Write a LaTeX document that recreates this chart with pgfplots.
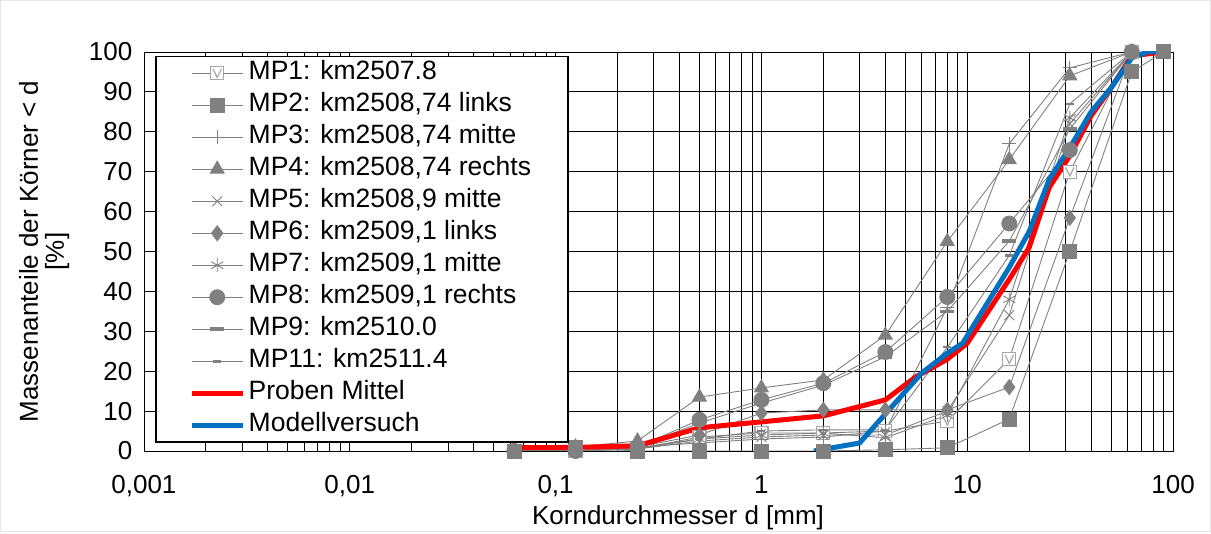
\documentclass[border=0pt]{standalone}
\usepackage{fontspec}
\setmainfont{Liberation Sans}
\usepackage{pgfplots}
\pgfplotsset{compat=1.18}
\definecolor{mpgray}{RGB}{128,128,128}
\definecolor{mplight}{RGB}{165,165,165}
\definecolor{mred}{RGB}{255,0,0}
\definecolor{mblue}{RGB}{0,112,192}
\pgfdeclareplotmark{sqv}{%
  \pgfpathrectangle{\pgfpoint{-\pgfplotmarksize}{-\pgfplotmarksize}}{\pgfpoint{2\pgfplotmarksize}{2\pgfplotmarksize}}%
  \pgfusepathqfillstroke
  \pgfpathmoveto{\pgfpoint{-0.65\pgfplotmarksize}{0.65\pgfplotmarksize}}%
  \pgfpathlineto{\pgfpoint{0pt}{-0.65\pgfplotmarksize}}%
  \pgfpathlineto{\pgfpoint{0.65\pgfplotmarksize}{0.65\pgfplotmarksize}}%
  \pgfusepathqstroke}
\begin{document}
\begin{tikzpicture}
\begin{axis}[
  name=ax, scale only axis, width=1029pt, height=399pt,
  xmode=log, xmin=0.001, xmax=100, ymin=0, ymax=100,
  xtick={0.001,0.01,0.1,1,10,100},
  xticklabels={{0,001},{0,01},{0,1},1,10,100},
  ytick={0,10,20,30,40,50,60,70,80,90,100},
  yticklabels={0,10,20,30,40,50,60,70,80,90,100},
  xmajorgrids, xminorgrids, ymajorgrids,
  major grid style={black, line width=0.8pt},
  minor grid style={black, line width=0.8pt},
  major tick length=0pt, minor tick length=0pt,
  axis line style={black, line width=0.8pt},
  tick label style={font=\fontsize{26}{30}\selectfont},
  xticklabel style={yshift=-21pt},
  yticklabel style={xshift=-8pt},
  xlabel={Korndurchmesser d [mm]},
  ylabel={Massenanteile der Körner < d\\{[\%]}},
  label style={font=\fontsize{26}{26}\selectfont},
  xlabel style={at={(axis description cs:0.519,-0.168)}, anchor=center},
  ylabel style={at={(axis description cs:-0.097,0.5)}, anchor=center, align=center},
  legend cell align=left,
  legend style={at={(0.0107,0.99)}, anchor=north west, draw=black, line width=1.6pt, fill=white,
    font=\fontsize{26.5}{28}\selectfont, inner xsep=34pt, inner ysep=0.5pt, row sep=0pt,
    nodes={text height=19pt, text depth=6pt, inner ysep=3.5pt, inner xsep=3pt}},
  legend image code/.code={\draw[mark repeat=2,mark phase=2,#1] plot coordinates {(0pt,0pt) (25pt,0pt) (51pt,0pt)};},
  every axis plot/.append style={line width=0.9pt},
]
% MP1
\addplot[mpgray, mark=sqv, mark size=6.5pt, mark options={solid, draw=mplight, fill=white, line width=1.2pt}] table {
0.063 0
0.125 0
0.25 0.5
0.5 3.5
1 4.5
2 4.5
4 5
8 7.5
16 23
31.5 70
63 100
};
\addlegendentry{MP1: km2507.8}
% MP2
\addplot[mpgray, mark=square*, mark size=7pt, mark options={solid, fill=mpgray}] table {
0.063 0
0.125 0.8
0.25 0
0.5 0
1 0
2 0
4 0.3
8 0.8
16 8
31.5 50
63 95
90 100
};
\addlegendentry{MP2: km2508,74 links}
% MP3
\addplot[mpgray, mark=+, mark size=7pt, mark options={solid}] table {
0.063 0.5
0.125 0.5
0.25 1
0.5 2
1 3
2 3.5
4 5
8 36
16 77
31.5 96
63 100
};
\addlegendentry{MP3: km2508,74 mitte}
% MP4
\addplot[mpgray, mark=triangle*, mark size=8pt, mark options={solid, fill=mpgray}] table {
0.063 0.5
0.125 1
0.25 2.5
0.5 13.5
1 15.8
2 17.8
4 29
8 52.5
16 73
31.5 94
63 100
};
\addlegendentry{MP4: km2508,74 rechts}
% MP5
\addplot[mpgray, mark=x, mark size=7pt, mark options={solid}] table {
0.063 0
0.125 0
0.25 0.5
0.5 2.5
1 3.5
2 4
4 4
8 10
16 34
31.5 82
63 100
};
\addlegendentry{MP5: km2508,9 mitte}
% MP6
\addplot[mpgray, mark=diamond*, mark size=7.5pt, mark options={solid, fill=mpgray}] table {
0.063 0
0.125 0
0.25 1
0.5 4
1 9.5
2 10.3
4 10.3
8 10.3
16 16
31.5 58.4
63 100
};
\addlegendentry{MP6: km2509,1 links}
% MP7
\addplot[mpgray, mark=asterisk, mark size=7pt, mark options={solid}] table {
0.063 0
0.125 0
0.25 0.5
0.5 3
1 4
2 4.5
4 3.3
8 9
16 38
31.5 83.5
63 100
};
\addlegendentry{MP7: km2509,1 mitte}
% MP8
\addplot[mpgray, mark=*, mark size=7.5pt, mark options={solid, fill=mpgray}] table {
0.063 0
0.125 0
0.25 1
0.5 7.8
1 12.8
2 17
4 24.8
8 38.6
16 57
31.5 75.4
63 100
};
\addlegendentry{MP8: km2509,1 rechts}
% MP9
\addplot[mpgray, mark=-, mark size=7pt, mark options={solid, line width=3.5pt}] table {
0.063 0
0.125 0
0.25 1
0.5 7
1 12
2 16.5
4 23.6
8 35
16 52.6
31.5 80.7
63 100
};
\addlegendentry{MP9: km2510.0}
% MP11
\addplot[mpgray, mark=-, mark size=4pt, mark options={solid, line width=2.5pt}] table {
0.063 0
0.125 0
0.25 0.8
0.5 3
1 5
2 5.3
4 5.3
8 26
16 49
31.5 87
63 100
};
\addlegendentry{MP11: km2511.4}
% Proben Mittel
\addplot[mred, line width=5pt, no marks] table {
0.063 0.8
0.125 0.9
0.25 1.3
0.5 5.8
1 7.3
2 8.8
4 12.8
5.6 18.5
8 23
10 27
16 43
20 51
25 66
31.5 74
40 84
50 91
63 99
90 100
};
\addlegendentry{Proben Mittel}
% Modellversuch
\addplot[mblue, line width=5pt, no marks] table {
1.8 0
3 2
6 19.5
8 24.5
9.5 27
16 46
20 55
25 68
31.5 76
40 85
50 91
63 98.5
75 100
90 100
};
\addlegendentry{Modellversuch}
\end{axis}
\draw[gray!20, line width=0.8pt] ([xshift=-143.5pt,yshift=-80.5pt]ax.south west) rectangle ([xshift=37.5pt,yshift=51.5pt]ax.north east);
\end{tikzpicture}
\end{document}
